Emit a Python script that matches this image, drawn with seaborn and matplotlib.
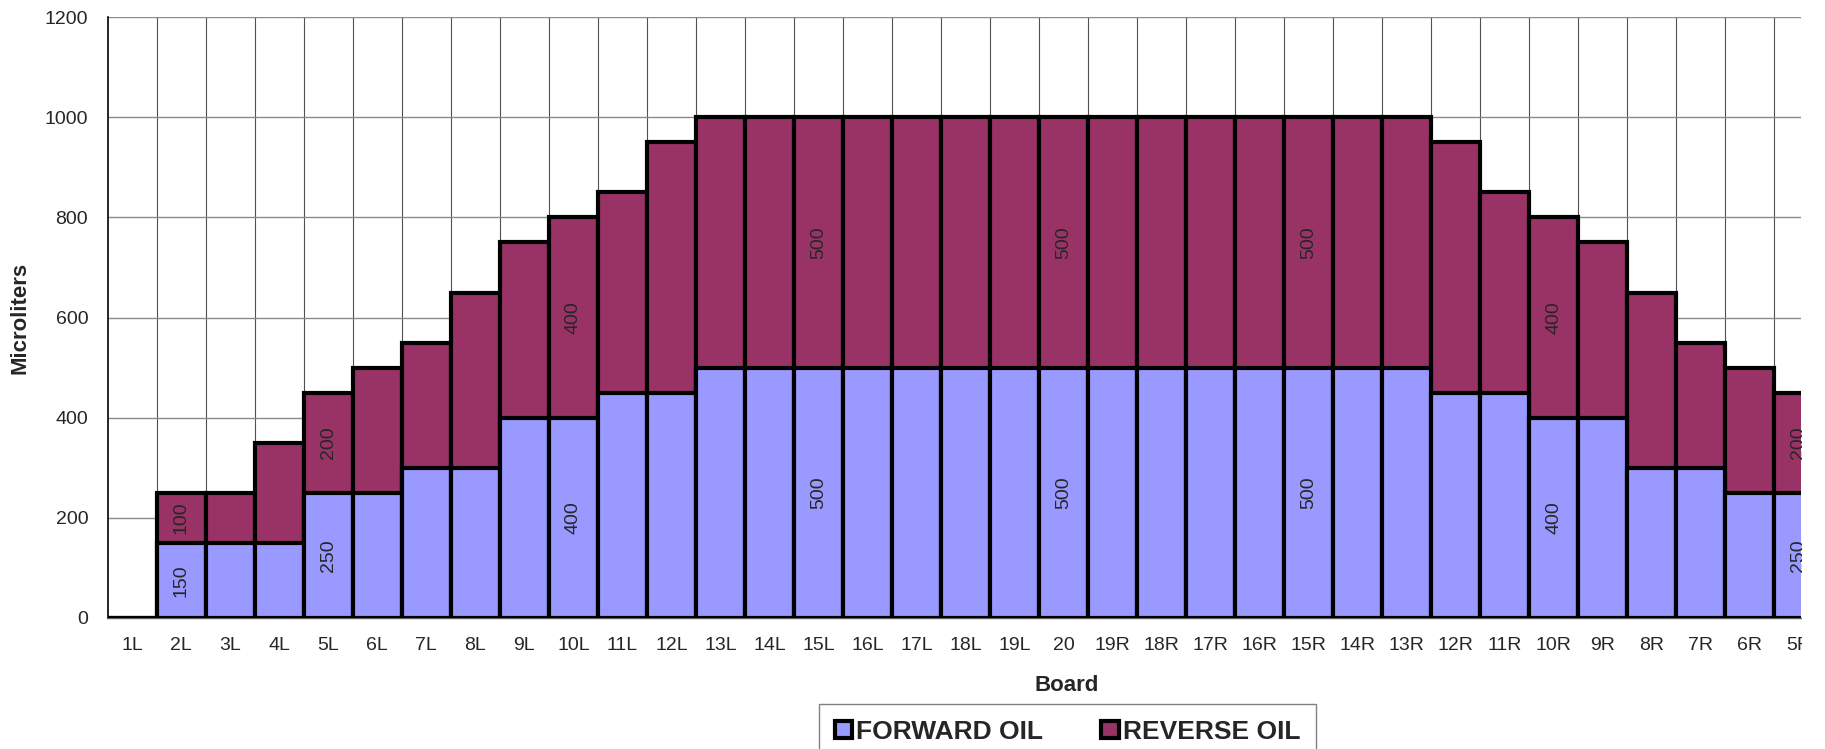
import numpy as np
import pandas as pd
import matplotlib
matplotlib.use("Agg")
import matplotlib.pyplot as plt
import seaborn as sns
from matplotlib.patches import Patch, Rectangle

boards = ["1L", "2L", "3L", "4L", "5L", "6L", "7L", "8L", "9L", "10L",
          "11L", "12L", "13L", "14L", "15L", "16L", "17L", "18L", "19L", "20",
          "19R", "18R", "17R", "16R", "15R", "14R", "13R", "12R", "11R", "10R",
          "9R", "8R", "7R", "6R", "5R"]
forward_oil = [0, 150, 150, 150, 250, 250, 300, 300, 400, 400,
               450, 450, 500, 500, 500, 500, 500, 500, 500, 500,
               500, 500, 500, 500, 500, 500, 500, 450, 450, 400,
               400, 300, 300, 250, 250]
reverse_oil = [0, 100, 100, 200, 200, 250, 250, 350, 350, 400,
               400, 500, 500, 500, 500, 500, 500, 500, 500, 500,
               500, 500, 500, 500, 500, 500, 500, 500, 400, 400,
               350, 350, 250, 250, 200]
labelled = ["2L", "5L", "10L", "15L", "20", "15R", "10R", "5R"]

FWD_COLOR = "#9999FF"
REV_COLOR = "#993366"

df = pd.DataFrame({"board": boards, "forward": forward_oil, "reverse": reverse_oil})
df["total"] = df["forward"] + df["reverse"]

sns.set_style("white")
plt.rcParams["font.family"] = ["Liberation Sans", "DejaVu Sans"]

fig = plt.figure(figsize=(18.25, 7.49), dpi=100)
ax = fig.add_axes([0.059, 0.175, 0.928, 0.802])

# stacked: total bar in reverse colour, forward bar drawn over it
sns.barplot(data=df, x="board", y="total", color=REV_COLOR, saturation=1,
            width=1.0, edgecolor="black", linewidth=3.0, ax=ax, zorder=3)
sns.barplot(data=df, x="board", y="forward", color=FWD_COLOR, saturation=1,
            width=1.0, edgecolor="black", linewidth=3.0, ax=ax, zorder=4)

for i, row in df.iterrows():
    if row["board"] in labelled:
        ax.text(i, row["forward"] / 2, str(row["forward"]), rotation=90,
                ha="center", va="center", fontsize=14, zorder=6)
        ax.text(i, row["forward"] + row["reverse"] / 2, str(row["reverse"]),
                rotation=90, ha="center", va="center", fontsize=14, zorder=6)

ax.set_ylim(0, 1200)
ax.set_yticks(np.arange(0, 1201, 200))

ax.set_xticks(np.arange(len(boards)) + 0.5, minor=True)
ax.set_xlim(-0.5, 34.05)
ax.tick_params(axis="x", which="major", length=0, pad=14, labelsize=14)
ax.tick_params(axis="x", which="minor", length=6, width=0.8, color="#606060")
ax.tick_params(axis="y", length=6, width=0.8, labelsize=14, pad=8)

ax.grid(True, axis="y", color="#8a8a8a", linewidth=1.0, zorder=0)
ax.grid(True, axis="x", which="minor", color="#505050", linewidth=0.8, zorder=0)
ax.grid(False, axis="x", which="major")
ax.set_axisbelow(True)

for s in ["top", "right"]:
    ax.spines[s].set_visible(False)
ax.spines["left"].set_color("black")
ax.spines["left"].set_linewidth(1.2)
ax.spines["bottom"].set_color("#606060")
ax.spines["bottom"].set_linewidth(1.0)

ax.set_ylabel("Microliters", fontsize=16, fontweight="bold", labelpad=10)
ax.set_xlabel("Board", fontsize=16, fontweight="bold")
ax.xaxis.set_label_coords(0.566, -0.095)

handles = [Patch(facecolor=FWD_COLOR, edgecolor="black", linewidth=3),
           Patch(facecolor=REV_COLOR, edgecolor="black", linewidth=3)]
leg = fig.legend(handles, ["FORWARD OIL", "REVERSE OIL"], loc="upper center",
                 bbox_to_anchor=(0.585, 0.06), ncol=2, frameon=True,
                 fancybox=False, prop={"weight": "bold", "size": 19},
                 handlelength=0.65, handleheight=0.65, handletextpad=0.15,
                 columnspacing=2.2, borderpad=0.6, borderaxespad=0)
leg.get_frame().set_edgecolor("#606060")
leg.get_frame().set_linewidth(1.0)

# the original chart is cropped on the right, cutting the last tick label
fig.patches.append(Rectangle((0.9875, 0), 0.0125, 1, transform=fig.transFigure,
                             facecolor="white", edgecolor="none", zorder=10))

fig.savefig("out.png", dpi=100)
